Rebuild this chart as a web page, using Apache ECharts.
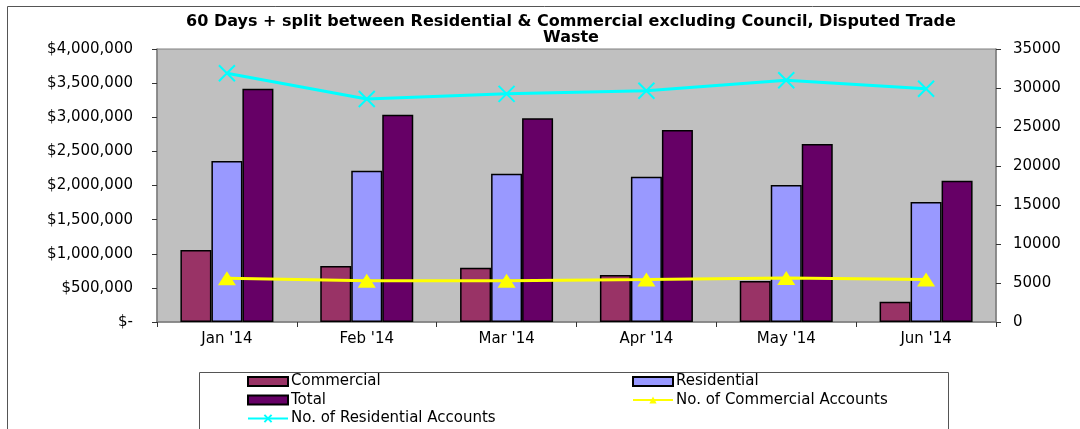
<!DOCTYPE html>
<html>
<head>
    <meta charset="utf-8">
    <style>
        html, body { margin: 0; padding: 0; background: #fff; }
        #chart { width: 1080px; height: 429px; }
    </style>
    <script src="https://cdn.jsdelivr.net/npm/echarts@6/dist/echarts.min.js"></script>
</head>
<body>
<div id="chart"></div>
<script>
  // 数据
  var months = ["Jan '14", "Feb '14", "Mar '14", "Apr '14", "May '14", "Jun '14"];
  var commercial = [1055000, 820000, 796000, 689000, 601000, 297000];
  var residential = [2359000, 2217000, 2173000, 2129000, 2007000, 1758000];
  var total = [3418000, 3037000, 2985000, 2813000, 2608000, 2070000];
  var commercialAccounts = [5600, 5300, 5300, 5450, 5650, 5450];
  var residentialAccounts = [31900, 28600, 29250, 29650, 31000, 29900];

  var font = 'DejaVu Sans';

  function money(v) {
    if (v === 0) return '$-';
    return '$' + v.toString().replace(/\B(?=(\d{3})+(?!\d))/g, ',');
  }

  var myChart = echarts.init(document.getElementById('chart'));
  var barStyle = function (c) {
    return { color: c, borderColor: '#000', borderWidth: 1.5 };
  };
  var legendText = { fontFamily: font, fontSize: 15, lineHeight: 15, color: '#000', padding: [0, 0, 0, -2] };
  var option = {
    animation: false,
    textStyle: { fontFamily: font },
    title: {
      text: '60 Days + split between Residential & Commercial excluding Council, Disputed Trade\nWaste',
      left: 566,
      top: 9,
      textAlign: 'center',
      textStyle: { fontFamily: font, fontWeight: 'bold', fontSize: 16, lineHeight: 16, color: '#000' }
    },
    graphic: [
      { type: 'rect', shape: { x: 7.5, y: 6.5, width: 1100, height: 440 },
        style: { fill: 'none', stroke: '#555', lineWidth: 1 }, z: -1 },
      { type: 'rect', shape: { x: 199.5, y: 372.5, width: 749, height: 70 },
        style: { fill: '#fff', stroke: '#555', lineWidth: 1 }, z: -1 }
    ],
    grid: {
      left: 157, right: 84, top: 49, bottom: 107,
      show: true, backgroundColor: '#C0C0C0', borderColor: '#808080', borderWidth: 1
    },
    legend: [{
      data: [
        { name: 'Commercial', icon: 'rect' },
        { name: 'Total', icon: 'rect' },
        'No. of Residential Accounts'
      ],
      orient: 'vertical', left: 247, top: 374, padding: 0, height: 60,
      itemWidth: 40, itemHeight: 9, itemGap: 3.5,
      textStyle: legendText
    }, {
      data: [
        { name: 'Residential', icon: 'rect' },
        'No. of Commercial Accounts'
      ],
      orient: 'vertical', left: 632, top: 374, padding: 0, height: 60,
      itemWidth: 40, itemHeight: 9, itemGap: 3.5,
      textStyle: legendText
    }],
    xAxis: {
      type: 'category',
      data: months,
      axisLine: { lineStyle: { color: '#808080', width: 1.5 } },
      axisTick: { show: true, length: 5, lineStyle: { color: '#333' } },
      axisLabel: { fontFamily: font, fontSize: 15, color: '#000', margin: 10 }
    },
    yAxis: [{
      type: 'value', min: 0, max: 4000000, interval: 500000,
      axisLine: { show: true, lineStyle: { color: '#808080', width: 1.5 } },
      axisTick: { show: true, length: 5, lineStyle: { color: '#333' } },
      splitLine: { show: false },
      axisLabel: { fontFamily: font, fontSize: 15, color: '#000', margin: 24, formatter: money }
    }, {
      type: 'value', min: 0, max: 35000, interval: 5000,
      axisLine: { show: true, lineStyle: { color: '#808080', width: 1.5 } },
      axisTick: { show: true, length: 5, lineStyle: { color: '#333' } },
      splitLine: { show: false },
      axisLabel: { fontFamily: font, fontSize: 15, color: '#000', margin: 17,
        formatter: function (v) { return String(v); } }
    }],
    series: [{
      name: 'Commercial', type: 'bar', data: commercial,
      barWidth: 31, barGap: '0%', itemStyle: barStyle('#993366')
    }, {
      name: 'Residential', type: 'bar', data: residential,
      barWidth: 31, barGap: '0%', itemStyle: barStyle('#9999FF')
    }, {
      name: 'Total', type: 'bar', data: total,
      barWidth: 31, barGap: '0%', itemStyle: barStyle('#660066')
    }, {
      name: 'No. of Commercial Accounts', type: 'line', yAxisIndex: 1, data: commercialAccounts,
      symbol: 'triangle', symbolSize: [18, 14], z: 5,
      lineStyle: { color: '#FFFF00', width: 3 },
      itemStyle: { color: '#FFFF00' }
    }, {
      name: 'No. of Residential Accounts', type: 'line', yAxisIndex: 1, data: residentialAccounts,
      symbol: 'path://M0,0L10,10M10,0L0,10', symbolSize: 16, z: 5,
      lineStyle: { color: '#00FFFF', width: 3 },
      itemStyle: { color: 'none', borderColor: '#00FFFF', borderWidth: 2 }
    }]
  };
  myChart.setOption(option);
</script>
</body>
</html>
